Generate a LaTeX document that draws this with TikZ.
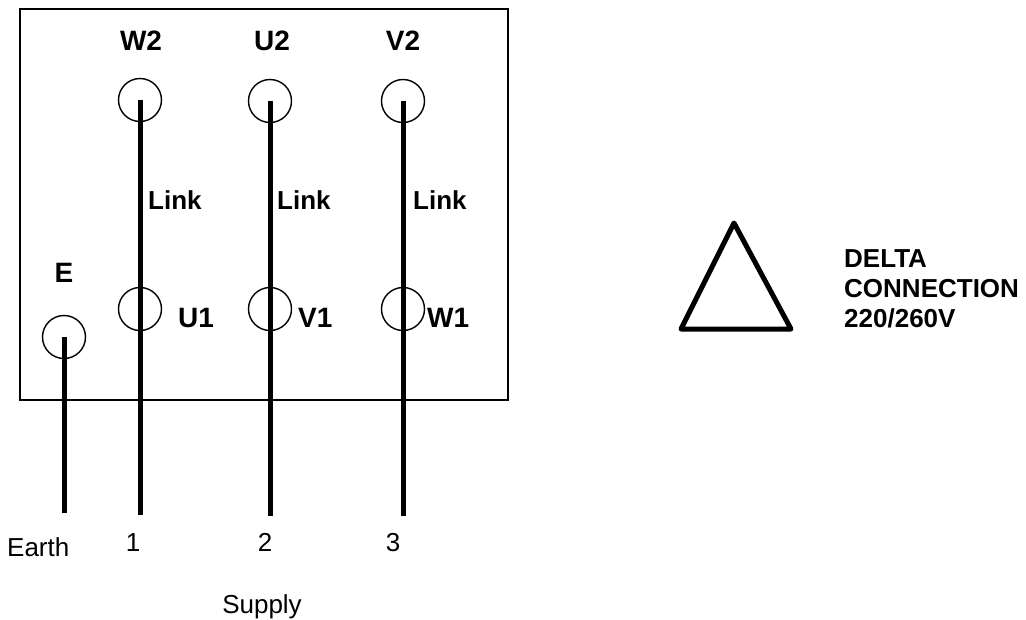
\documentclass[tikz,border=0pt]{standalone}
\usepackage{fontspec}
\setmainfont{Liberation Sans}
\begin{document}
\begin{tikzpicture}[x=1pt,y=-1pt,
  term/.style={draw,circle,line width=1.4pt,minimum size=43pt,inner sep=0pt},
  wire/.style={line width=5pt},
  lbl/.style={font=\fontsize{26}{30}\selectfont\bfseries,inner sep=0pt},
  tlbl/.style={font=\fontsize{28}{32}\selectfont\bfseries,inner sep=0pt},
  txt/.style={font=\fontsize{26}{30}\selectfont,inner sep=0pt}]
\useasboundingbox (0,0) rectangle (1026,619);
% terminal box
\draw[line width=1.4pt] (20,9) rectangle (508,400);
% terminals
\node[term] (W2) at (140,100) {};
\node[term] (U2) at (270,101) {};
\node[term] (V2) at (403,101) {};
\node[term] (U1) at (140,309) {};
\node[term] (V1) at (270,309) {};
\node[term] (W1) at (403,309) {};
\node[term] (E) at (64,337) {};
% supply ends
\coordinate (s0) at (64,513);
\coordinate (s1) at (140,515);
\coordinate (s2) at (270,516);
\coordinate (s3) at (403,516);
% wires
\draw[wire] (W2.center) -- (U1.center) -- (s1);
\draw[wire] (U2.center) -- (V1.center) -- (s2);
\draw[wire] (V2.center) -- (W1.center) -- (s3);
\draw[wire] (E.center) -- (s0);
% labels
\node[tlbl,anchor=base] (lW2) at (141,50) {W2};
\node[tlbl,anchor=base] (lU2) at (272,50) {U2};
\node[tlbl,anchor=base] (lV2) at (403,50) {V2};
\node[lbl,anchor=base west] (lk1) at (148,209) {Link};
\node[lbl,anchor=base west] (lk2) at (277,209) {Link};
\node[lbl,anchor=base west] (lk3) at (413,209) {Link};
\node[tlbl,anchor=base west] (lU1) at (178,327) {U1};
\node[tlbl,anchor=base west] (lV1) at (298,327) {V1};
\node[tlbl,anchor=base west] (lW1) at (427,327) {W1};
\node[tlbl,anchor=base] (lE) at (64,282) {E};
\node[txt,anchor=base west] (earth) at (7,556) {Earth};
\node[txt,anchor=base] (n1) at (133,551) {1};
\node[txt,anchor=base] (n2) at (265,551) {2};
\node[txt,anchor=base] (n3) at (393,551) {3};
\node[txt,anchor=base] (supply) at (262,613) {Supply};
% delta symbol
\coordinate (ta) at (734,223);
\coordinate (tb) at (681,329);
\coordinate (tc) at (791,329);
\draw[line width=5pt,line join=round,line cap=round] (ta) -- (tb) -- (tc) -- cycle;
\node[lbl,anchor=north west,align=left] (delta) at (844,249.5) {DELTA\\CONNECTION\\220/260V};
\end{tikzpicture}
\end{document}
